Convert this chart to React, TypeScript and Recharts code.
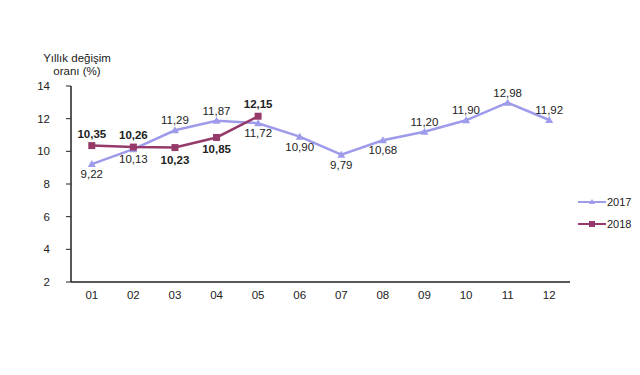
import React from "react";
import { LineChart, Line, XAxis, YAxis, LabelList } from "recharts";

const months = ["01", "02", "03", "04", "05", "06", "07", "08", "09", "10", "11", "12"];
const values2017 = [9.22, 10.13, 11.29, 11.87, 11.72, 10.9, 9.79, 10.68, 11.2, 11.9, 12.98, 11.92];
const values2018 = [10.35, 10.26, 10.23, 10.85, 12.15];
const yTicks = [2, 4, 6, 8, 10, 12, 14];
const bandEdges = [0.5, 1.5, 2.5, 3.5, 4.5, 5.5, 6.5, 7.5, 8.5, 9.5, 10.5, 11.5, 12.5];

// which labels sit under their point
const below2017 = [true, true, false, false, true, true, true, true, false, false, false, false];
const below2018 = [false, false, true, true, false];

const c2017 = "#9d9bea";
const c2018 = "#963a6a";
const font = "'Liberation Sans', Arial, sans-serif";

const data = months.map((m, i) => ({
  x: i + 1,
  month: m,
  v2017: values2017[i],
  v2018: i < values2018.length ? values2018[i] : undefined,
}));

const fmt = (v: number) => v.toFixed(2).replace(".", ",");

const makeLabel = (below: boolean[], bold: boolean) => (props: any) => {
  const { x, y, value, index } = props;
  if (value == null) return null;
  const dy = below[index] ? (bold ? 8 : 6) : bold ? -8 : -6;
  return (
    <text
      x={x}
      y={y + dy}
      textAnchor="middle"
      dominantBaseline={below[index] ? "hanging" : "auto"}
      fontSize={11.5}
      fontFamily={font}
      fontWeight={bold ? "bold" : "normal"}
      fill="#222"
    >
      {fmt(value)}
    </text>
  );
};

const Triangle = (props: any) => {
  const { cx, cy, index } = props;
  if (cy == null) return null;
  return (
    <path
      key={`t-${index}`}
      d={`M${cx},${cy - 4} L${cx + 4},${cy + 3} L${cx - 4},${cy + 3} Z`}
      fill={c2017}
    />
  );
};

const Square = (props: any) => {
  const { cx, cy, index } = props;
  if (cy == null) return null;
  return <rect key={`s-${index}`} x={cx - 3.5} y={cy - 3.5} width={7} height={7} fill={c2018} />;
};

const LegendBox = () => (
  <svg width={64} height={40} style={{ position: "absolute", left: 576, top: 194 }}>
    <line x1={2} y1={8} x2={30} y2={8} stroke={c2017} strokeWidth={2} />
    <path d="M16,5 L19,10 L13,10 Z" fill={c2017} />
    <text x={31} y={12} fontSize={11} fontFamily={font} fill="#222">2017</text>
    <line x1={2} y1={30} x2={30} y2={30} stroke={c2018} strokeWidth={2} />
    <rect x={13} y={27} width={6} height={6} fill={c2018} />
    <text x={31} y={34} fontSize={11} fontFamily={font} fill="#222">2018</text>
  </svg>
);

export default function App() {
  return (
    <div style={{ position: "absolute", left: 0, top: 0, width: 640, height: 375, background: "#fff" }}>
      <div
        style={{
          position: "absolute",
          left: 30,
          top: 52,
          width: 94,
          textAlign: "center",
          fontFamily: font,
          fontSize: 11.5,
          lineHeight: "13px",
          color: "#222",
        }}
      >
        Yıllık değişim
        <br />
        oranı (%)
      </div>
      <LineChart width={640} height={375} data={data} margin={{ top: 86, right: 70, bottom: 63, left: 0 }}>
        <XAxis
          xAxisId="edges"
          dataKey="x"
          type="number"
          domain={[0.5, 12.5]}
          ticks={bandEdges}
          tick={false}
          tickSize={5}
          axisLine={{ stroke: "#222", strokeWidth: 1.5 }}
          tickLine={{ stroke: "#222" }}
          height={6}
        />
        <XAxis
          xAxisId="labels"
          dataKey="x"
          type="number"
          domain={[0.5, 12.5]}
          ticks={months.map((_, i) => i + 1)}
          tickFormatter={(v: number) => months[v - 1]}
          axisLine={false}
          tickLine={false}
          tickSize={0}
          tickMargin={3}
          tick={{ fontSize: 11.5, fontFamily: font, fill: "#222" }}
          height={24}
        />
        <YAxis
          domain={[2, 14]}
          ticks={yTicks}
          width={71}
          tickSize={5}
          tickMargin={16}
          axisLine={{ stroke: "#222", strokeWidth: 1.5 }}
          tickLine={{ stroke: "#222" }}
          tick={{ fontSize: 11.5, fontFamily: font, fill: "#222" }}
        />
        <Line
          xAxisId="labels"
          dataKey="v2017"
          stroke={c2017}
          strokeWidth={2.5}
          dot={<Triangle />}
          activeDot={false}
          isAnimationActive={false}
        >
          <LabelList dataKey="v2017" content={makeLabel(below2017, false)} />
        </Line>
        <Line
          xAxisId="labels"
          dataKey="v2018"
          stroke={c2018}
          strokeWidth={2.5}
          dot={<Square />}
          activeDot={false}
          connectNulls={false}
          isAnimationActive={false}
        >
          <LabelList dataKey="v2018" content={makeLabel(below2018, true)} />
        </Line>
      </LineChart>
      <LegendBox />
    </div>
  );
}
